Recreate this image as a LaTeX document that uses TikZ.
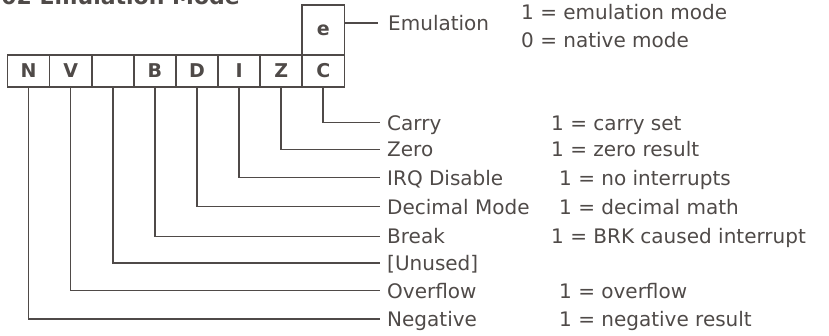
\documentclass[tikz,border=0pt]{standalone}
\usepackage{fontspec}
\setmainfont{DejaVu Sans}
\definecolor{ink}{HTML}{4F4A48}
\tikzset{
  flag/.style={draw=ink, line width=1.6pt, minimum width=42.1pt, minimum height=32pt, inner sep=0pt,
    font=\fontsize{19}{19}\selectfont\bfseries, text=ink},
  lbl/.style={anchor=base west, inner sep=0pt, font=\fontsize{20}{20}\selectfont, text=ink},
  wire/.style={draw=ink, line width=1.6pt},
}
\begin{document}
\begin{tikzpicture}[x=1pt,y=-1pt]
\useasboundingbox (0,0) rectangle (829,336);
% title (cut off by the top edge)
\node[anchor=base east, inner sep=0pt, font=\fontsize{22}{22}\selectfont\bfseries, text=ink] (title) at (240,5) {6502 Emulation Mode};
% flag boxes
\node[flag] (N) at (28.55,71) {N};
\node[flag] (V) at (70.65,71) {V};
\node[flag] (U) at (112.75,71) {};
\node[flag] (B) at (154.85,71) {B};
\node[flag] (D) at (196.95,71) {D};
\node[flag] (I) at (239.05,71) {I};
\node[flag] (Z) at (281.15,71) {Z};
\node[flag] (C) at (323.25,71) {C};
\node[flag, minimum height=50pt] (e) at (323.25,30) {e};
% line end points
\coordinate (ee) at (378,23.3);
\coordinate (eC) at (380,122.7);
\coordinate (eZ) at (380,149.5);
\coordinate (eI) at (380,177.7);
\coordinate (eD) at (380,206.7);
\coordinate (eB) at (380,236.5);
\coordinate (eU) at (380,263.3);
\coordinate (eV) at (380,290.7);
\coordinate (eN) at (380,318.7);
% connectors
\draw[wire] (e.east |- ee) -- (ee);
\draw[wire] (C.south) |- (eC);
\draw[wire] (Z.south) |- (eZ);
\draw[wire] (I.south) |- (eI);
\draw[wire] (D.south) |- (eD);
\draw[wire] (B.south) |- (eB);
\draw[wire] (U.south) |- (eU);
\draw[wire] (V.south) |- (eV);
\draw[wire] (N.south) |- (eN);
% labels
\node[lbl] (le) at (388,31) {Emulation};
\node[lbl] (le1) at (521,20) {1 = emulation mode};
\node[lbl] (le0) at (521,48) {0 = native mode};
\node[lbl] (lC) at (387,130.2) {Carry};
\node[lbl] (lZ) at (387,157) {Zero};
\node[lbl] (lI) at (387,185.2) {IRQ Disable};
\node[lbl] (lD) at (387,214.2) {Decimal Mode};
\node[lbl] (lB) at (387,244) {Break};
\node[lbl] (lU) at (387,270.8) {[Unused]};
\node[lbl] (lV) at (387,298.2) {Overflow};
\node[lbl] (lN) at (387,326.2) {Negative};
\node[lbl] (vC) at (551,130.2) {1 = carry set};
\node[lbl] (vZ) at (551,157) {1 = zero result};
\node[lbl] (vI) at (559,185.2) {1 = no interrupts};
\node[lbl] (vD) at (559,214.2) {1 = decimal math};
\node[lbl] (vB) at (551,244) {1 = BRK caused interrupt};
\node[lbl] (vV) at (559,298.2) {1 = overflow};
\node[lbl] (vN) at (559,326.2) {1 = negative result};
\end{tikzpicture}
\end{document}
